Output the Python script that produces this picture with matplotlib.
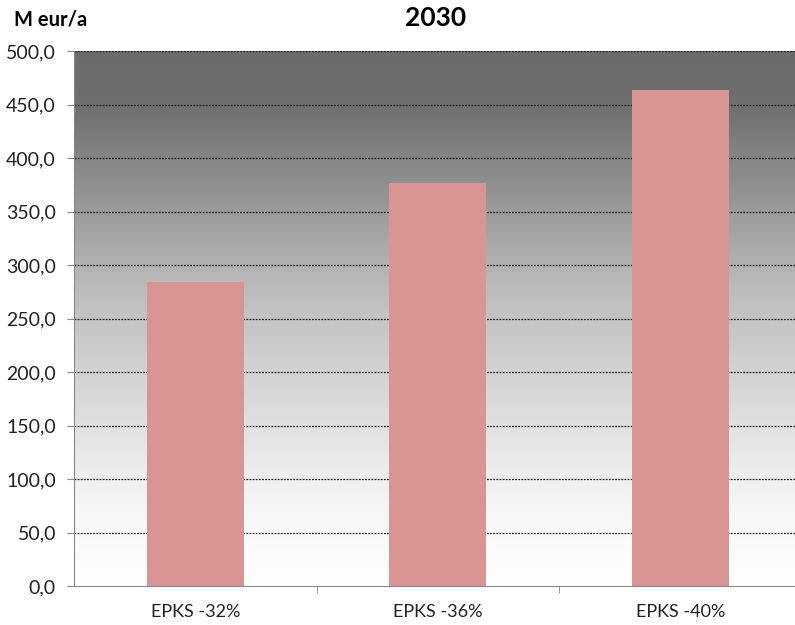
import matplotlib
matplotlib.use("Agg")
import matplotlib.pyplot as plt
import numpy as np
from matplotlib.colors import LinearSegmentedColormap
from matplotlib.ticker import FuncFormatter, FixedLocator

categories = ["EPKS -32%", "EPKS -36%", "EPKS -40%"]
values = [284.0, 377.0, 463.5]
yticks = [0, 50, 100, 150, 200, 250, 300, 350, 400, 450, 500]

plt.rcParams['font.family'] = ['Lato', 'DejaVu Sans']

fig = plt.figure(figsize=(7.95, 6.25), dpi=100)
ax = fig.add_axes([74/795, 39/625, 1 - 74/795, (586-51)/625])

x = np.arange(len(categories))
ax.set_xlim(-0.5, -0.5 + 721/242.5)
ax.set_ylim(0, 500)

# gradient background
cmap = LinearSegmentedColormap.from_list("g", [(0, "#ffffff"), (0.15, "#f6f6f6"), (0.55, "#bdbdbd"), (0.9, "#6f6f6f"), (1, "#6b6b6b")])
grad = np.linspace(0, 1, 256).reshape(-1, 1)
ax.imshow(grad, extent=[ax.get_xlim()[0], ax.get_xlim()[1], 0, 500],
          origin="lower", aspect="auto", cmap=cmap, zorder=0)

for yv in yticks[1:]:
    ax.axhline(yv, color="#222222", lw=0.9, ls=(0, (1.5, 1)), zorder=1)

ax.bar(x, values, width=0.4, color="#d99594", zorder=2)

ax.yaxis.set_major_locator(FixedLocator(yticks))
ax.yaxis.set_major_formatter(FuncFormatter(lambda v, p: f"{v:.1f}".replace(".", ",")))
ax.set_xticks(x)
ax.set_xticklabels(categories)
ax.xaxis.set_minor_locator(FixedLocator([0.5, 1.5]))
ax.tick_params(axis="x", which="major", length=0, labelsize=13, pad=13, colors="#222222")
ax.tick_params(axis="x", which="minor", length=5, color="#888888")
ax.tick_params(axis="y", length=5, color="#888888", labelsize=14, labelcolor="#222222", pad=8)

for s in ["top", "right"]:
    ax.spines[s].set_visible(False)
ax.spines["left"].set_color("#888888")
ax.spines["bottom"].set_color("#888888")

fig.text(436/795, 1 - 18/625, "2030", ha="center", va="center", fontsize=19, fontweight="bold")
fig.text(14/795, 1 - 19/625, "M eur/a", ha="left", va="center", fontsize=14.5, fontweight="bold")

fig.savefig("out.png", dpi=100)
